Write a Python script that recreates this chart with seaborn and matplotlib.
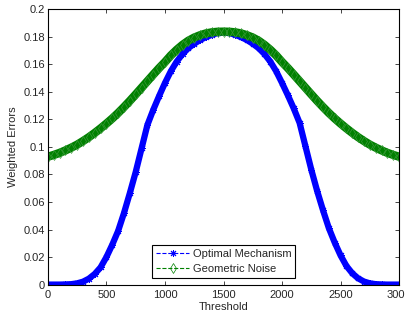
import numpy as np
import pandas as pd
import matplotlib
matplotlib.use("Agg")
import matplotlib.pyplot as plt
import seaborn as sns

# Threshold grid (x axis)
threshold = np.arange(0, 3001, 50)

# Weighted error
optimal = [0.0000, 0.0000, 0.0000, 0.0001, 0.0003, 0.0009, 0.0021, 0.0043, 0.0077, 0.0125,
           0.0200, 0.0290, 0.0390, 0.0520, 0.0665, 0.0818, 0.0989, 0.1160, 0.1270, 0.1370,
           0.1465, 0.1550, 0.1620, 0.1675, 0.1718, 0.1750, 0.1777, 0.1798, 0.1815, 0.1828,
           0.1834,
           0.1828, 0.1815, 0.1798, 0.1777, 0.1750, 0.1718, 0.1675, 0.1620, 0.1550, 0.1465,
           0.1375, 0.1280, 0.1175, 0.1005, 0.0835, 0.0680, 0.0540, 0.0410, 0.0305, 0.0212,
           0.0135, 0.0082, 0.0045, 0.0022, 0.0009, 0.0003, 0.0001, 0.0000, 0.0000, 0.0000]

geometric = [0.0929, 0.0942, 0.0957, 0.0975, 0.0995, 0.1017, 0.1043, 0.1071, 0.1102, 0.1135,
             0.1170, 0.1207, 0.1247, 0.1290, 0.1335, 0.1382, 0.1430, 0.1478, 0.1526, 0.1573,
             0.1617, 0.1665, 0.1706, 0.1742, 0.1772, 0.1795, 0.1812, 0.1825, 0.1833, 0.1837,
             0.1838,
             0.1837, 0.1833, 0.1825, 0.1812, 0.1795, 0.1772, 0.1742, 0.1706, 0.1665, 0.1617,
             0.1573, 0.1526, 0.1478, 0.1430, 0.1382, 0.1335, 0.1290, 0.1247, 0.1207, 0.1170,
             0.1135, 0.1102, 0.1071, 0.1043, 0.1017, 0.0995, 0.0975, 0.0957, 0.0942, 0.0929]

df = pd.DataFrame({"Threshold": threshold, "optimal": optimal, "geometric": geometric})

sns.set_style("ticks")
plt.rcParams['font.family'] = ['Liberation Sans', 'DejaVu Sans']
plt.rcParams['font.size'] = 8

fig = plt.figure(figsize=(4.06, 3.11), dpi=100)
ax = fig.add_axes([0.118, 0.085, 0.865, 0.885])

blue = "#0000ff"
green = "#008000"

# thick band under the markers, so the dense marker trail looks solid
sns.lineplot(data=df, x="Threshold", y="optimal", ax=ax, color=blue, lw=4.5)
sns.lineplot(data=df, x="Threshold", y="optimal", ax=ax, color=blue, lw=0.8, linestyle="--",
             marker=(8, 2, 0), markersize=5, markeredgecolor=blue, markeredgewidth=0.7,
             label="Optimal Mechanism")

sns.lineplot(data=df, x="Threshold", y="geometric", ax=ax, color=green, lw=6)
sns.lineplot(data=df, x="Threshold", y="geometric", ax=ax, color=green, lw=0.8, linestyle="--",
             marker="d", markersize=5.5, markerfacecolor="none", markeredgecolor="#3a9a3a",
             markeredgewidth=0.5, label="Geometric Noise")

ax.set_xlim(0, 3000)
ax.set_ylim(0, 0.2)
ax.set_xticks(np.arange(0, 3001, 500))
ax.set_yticks(np.arange(0, 0.201, 0.02))
ax.set_yticklabels(["0", "0.02", "0.04", "0.06", "0.08", "0.1", "0.12", "0.14", "0.16", "0.18", "0.2"])
ax.set_xlabel("Threshold", labelpad=1)
ax.set_ylabel("Weighted Errors", labelpad=4)
ax.tick_params(direction="in", length=3, width=0.6, top=True, right=True, labelsize=8)
ax.tick_params(axis="x", pad=4)
ax.tick_params(axis="y", pad=2)
for s in ax.spines.values():
    s.set_visible(True)
    s.set_linewidth(0.8)
    s.set_color("black")

leg = ax.legend(loc="lower center", bbox_to_anchor=(0.5, 0.0), fancybox=False, framealpha=1,
                edgecolor="black", fontsize=8, handlelength=3.0, borderpad=0.35,
                labelspacing=0.45, handletextpad=0.3, borderaxespad=0.6)
leg.get_frame().set_linewidth(0.8)
for h in leg.legend_handles:
    h.set_markeredgecolor(h.get_color())

fig.savefig("out.png", dpi=100)
